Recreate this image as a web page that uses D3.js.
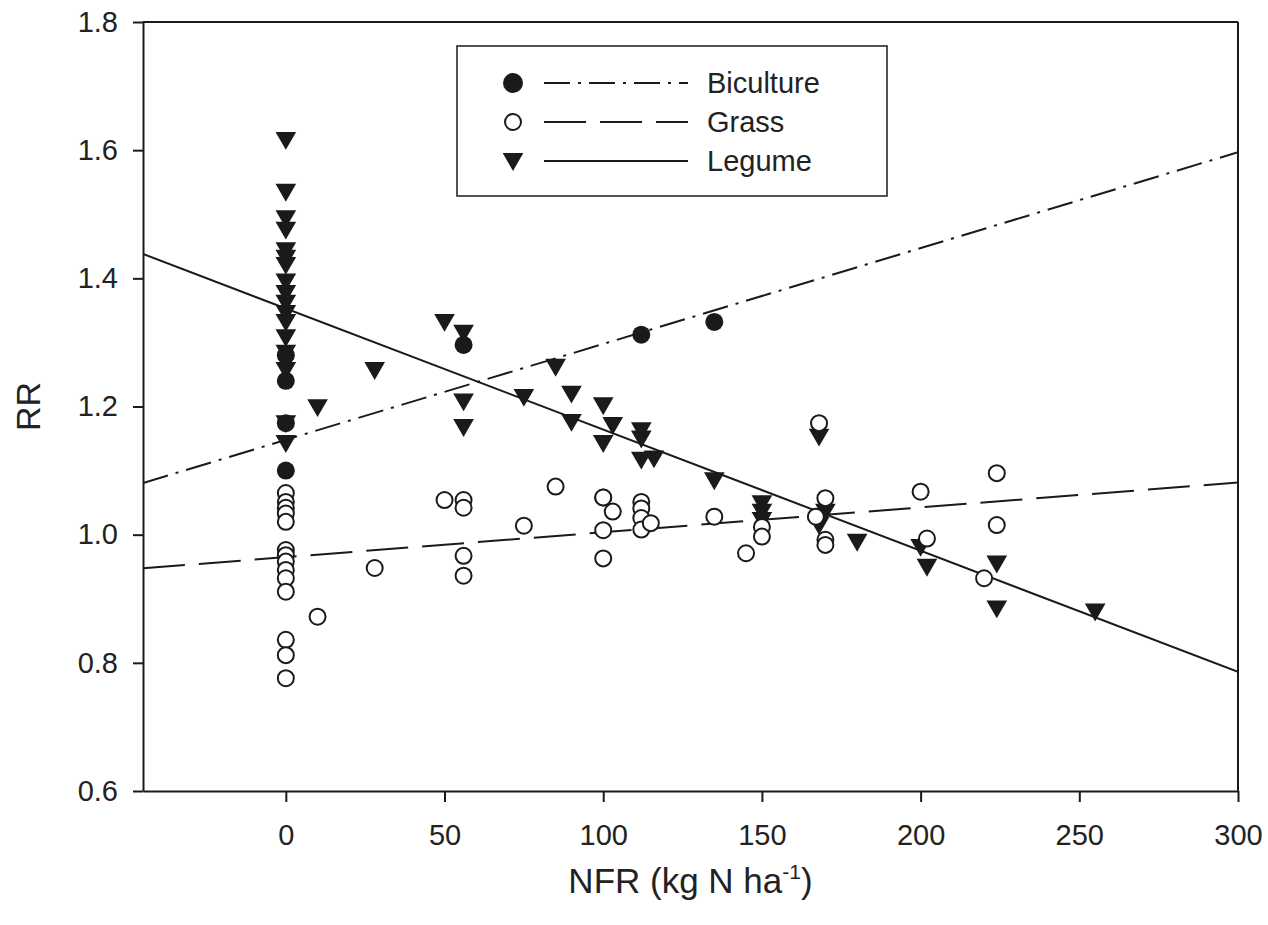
<!DOCTYPE html>
<html>
<head>
<meta charset="utf-8">
<script src="https://cdn.jsdelivr.net/npm/d3@7"></script>
<style>
  body { margin: 0; background: #fff; }
  text { font-family: "Liberation Sans", Arial, sans-serif; fill: #222; }
</style>
</head>
<body>
<svg id="chart" width="1268" height="925"></svg>
<script>
// NFR (kg N/ha) and response ratio
const bicultureNFR = [0, 0, 0, 0, 56, 112, 135];
const bicultureRR  = [1.28, 1.24, 1.174, 1.10, 1.296, 1.312, 1.332];

const grassNFR = [0, 0, 0, 0, 0, 0, 0, 0, 0, 0, 0, 0, 0, 0, 10, 28,
                  50, 56, 56, 56, 56, 75, 85, 100, 100, 100, 100, 103,
                  112, 112, 112, 112, 115, 135, 145, 150, 150, 167, 168, 170, 170, 170,
                  200, 202, 220, 224, 224];
const grassRR  = [1.065, 1.051, 1.042, 1.033, 1.020, 0.976, 0.968, 0.958, 0.945, 0.932, 0.911, 0.836, 0.812, 0.776, 0.872, 0.948,
                  1.054, 1.054, 1.042, 0.967, 0.936, 1.014, 1.075, 1.058, 1.007, 0.963, 1.058, 1.036,
                  1.051, 1.041, 1.026, 1.008, 1.018, 1.028, 0.971, 1.012, 0.997, 1.028, 1.174, 1.057, 0.992, 0.984,
                  1.067, 0.994, 0.932, 1.096, 1.015];

const legumeNFR = [0, 0, 0, 0, 0, 0, 0, 0, 0, 0, 0, 0, 0, 0, 0, 0, 0,
                   10, 28, 50, 56, 56, 56, 75, 85, 90, 90, 100, 100, 103,
                   112, 112, 112, 116, 135, 150, 150, 150, 168, 168, 170, 180,
                   200, 202, 224, 224, 255];
const legumeRR  = [1.616, 1.535, 1.494, 1.476, 1.444, 1.432, 1.421, 1.395, 1.377, 1.362, 1.346, 1.332, 1.308, 1.284, 1.257, 1.174, 1.143,
                   1.199, 1.257, 1.332, 1.315, 1.208, 1.168, 1.215, 1.262, 1.22, 1.176, 1.202, 1.143, 1.171,
                   1.163, 1.150, 1.117, 1.119, 1.085, 1.049, 1.036, 1.023, 1.153, 1.015, 1.036, 0.989,
                   0.981, 0.950, 0.955, 0.885, 0.880];

// fitted regression lines: RR = a + b * NFR
const fitNames     = ["Biculture", "Grass", "Legume"];
const fitIntercept = [1.148, 0.965, 1.353];
const fitSlope     = [0.001496, 0.000388, -0.00189];

const xTicks = [0, 50, 100, 150, 200, 250, 300];
const yTicks = [0.6, 0.8, 1.0, 1.2, 1.4, 1.6, 1.8];

const svg = d3.select("#chart");
svg.append("rect").attr("width", 1268).attr("height", 925).attr("fill", "#fff");

const plotLeft = 143, plotRight = 1238, plotTop = 22, plotBottom = 791;

const x = d3.scaleLinear().domain([-45, 300]).range([plotLeft, plotRight]);
const y = d3.scaleLinear().domain([0.6, 1.8]).range([plotBottom, plotTop]);

const dashes = { Biculture: "26,8,3,8", Grass: "42,14", Legume: null };

svg.append("defs").append("clipPath").attr("id", "plot-clip")
   .append("rect")
   .attr("x", plotLeft).attr("y", plotTop)
   .attr("width", plotRight - plotLeft).attr("height", plotBottom - plotTop);

// regression lines
const line = d3.line().x(d => x(d[0])).y(d => y(d[1]));
fitNames.forEach((name, i) => {
    const pts = x.domain().map(v => [v, fitIntercept[i] + fitSlope[i] * v]);
    svg.append("path")
       .datum(pts)
       .attr("clip-path", "url(#plot-clip)")
       .attr("d", line)
       .attr("fill", "none")
       .attr("stroke", "#1a1a1a")
       .attr("stroke-width", 2)
       .attr("stroke-dasharray", dashes[name]);
});

// points
const tri = d3.symbol().type(d3.symbolTriangle).size(185);

svg.selectAll(".legume")
   .data(legumeNFR.map((v, i) => [v, legumeRR[i]]))
   .enter()
   .append("path")
   .attr("class", "legume")
   .attr("d", tri)
   .attr("transform", d => `translate(${x(d[0])},${y(d[1]) - 2}) rotate(180)`)
   .attr("fill", "#1a1a1a");

svg.selectAll(".biculture")
   .data(bicultureNFR.map((v, i) => [v, bicultureRR[i]]))
   .enter()
   .append("circle")
   .attr("class", "biculture")
   .attr("cx", d => x(d[0]))
   .attr("cy", d => y(d[1]))
   .attr("r", 9)
   .attr("fill", "#1a1a1a");

svg.selectAll(".grass")
   .data(grassNFR.map((v, i) => [v, grassRR[i]]))
   .enter()
   .append("circle")
   .attr("class", "grass")
   .attr("cx", d => x(d[0]))
   .attr("cy", d => y(d[1]))
   .attr("r", 8)
   .attr("fill", "#fff")
   .attr("stroke", "#1a1a1a")
   .attr("stroke-width", 2);

// axes
const xAxis = svg.append("g")
   .attr("transform", `translate(0,${plotBottom})`)
   .call(d3.axisBottom(x).tickValues(xTicks).tickSize(11).tickSizeOuter(0).tickPadding(22));

const yAxis = svg.append("g")
   .attr("transform", `translate(${plotLeft},0)`)
   .call(d3.axisLeft(y).tickValues(yTicks).tickSize(10).tickSizeOuter(0).tickPadding(15)
           .tickFormat(d3.format(".1f")));

[xAxis, yAxis].forEach(g => {
    g.select(".domain").attr("stroke", "#1a1a1a").attr("stroke-width", 2);
    g.selectAll(".tick line").attr("stroke", "#1a1a1a").attr("stroke-width", 2);
    g.selectAll(".tick text")
     .style("font-size", "29px")
     .style("font-family", "'Liberation Sans', Arial, sans-serif")
     .attr("fill", "#222");
});

// frame top and right
svg.append("line")
   .attr("x1", plotLeft).attr("x2", plotRight)
   .attr("y1", plotTop).attr("y2", plotTop)
   .attr("stroke", "#1a1a1a").attr("stroke-width", 2);
svg.append("line")
   .attr("x1", plotRight).attr("x2", plotRight)
   .attr("y1", plotTop).attr("y2", plotBottom)
   .attr("stroke", "#1a1a1a").attr("stroke-width", 2);

// axis titles
svg.append("text")
   .attr("transform", `translate(40,${(plotTop + plotBottom) / 2}) rotate(-90)`)
   .attr("text-anchor", "middle")
   .style("font-size", "34px")
   .text("RR");

const xt = svg.append("text")
   .attr("x", (plotLeft + plotRight) / 2)
   .attr("y", 893)
   .attr("text-anchor", "middle")
   .style("font-size", "35px");
xt.append("tspan").text("NFR (kg N ha");
xt.append("tspan").attr("dy", -14).style("font-size", "21px").text("-1");
xt.append("tspan").attr("dy", 14).text(")");

// legend
const legend = svg.append("g");
legend.append("rect")
   .attr("x", 457).attr("y", 46)
   .attr("width", 430).attr("height", 150)
   .attr("fill", "#fff")
   .attr("stroke", "#1a1a1a")
   .attr("stroke-width", 1.5);

const legendY = [83, 122, 161];
fitNames.forEach((name, i) => {
    const ly = legendY[i];
    if (name === "Biculture") {
        legend.append("circle").attr("cx", 513).attr("cy", ly).attr("r", 10).attr("fill", "#1a1a1a");
    } else if (name === "Grass") {
        legend.append("circle").attr("cx", 513).attr("cy", ly).attr("r", 8)
              .attr("fill", "#fff").attr("stroke", "#1a1a1a").attr("stroke-width", 2);
    } else {
        legend.append("path").attr("d", tri)
              .attr("transform", `translate(513,${ly - 2}) rotate(180)`)
              .attr("fill", "#1a1a1a");
    }
    legend.append("line")
          .attr("x1", 544).attr("x2", 688)
          .attr("y1", ly).attr("y2", ly)
          .attr("stroke", "#1a1a1a")
          .attr("stroke-width", 2)
          .attr("stroke-dasharray", dashes[name]);
    legend.append("text")
          .attr("x", 707).attr("y", ly)
          .attr("dy", "0.36em")
          .style("font-size", "29px")
          .text(name);
});
</script>
</body>
</html>
